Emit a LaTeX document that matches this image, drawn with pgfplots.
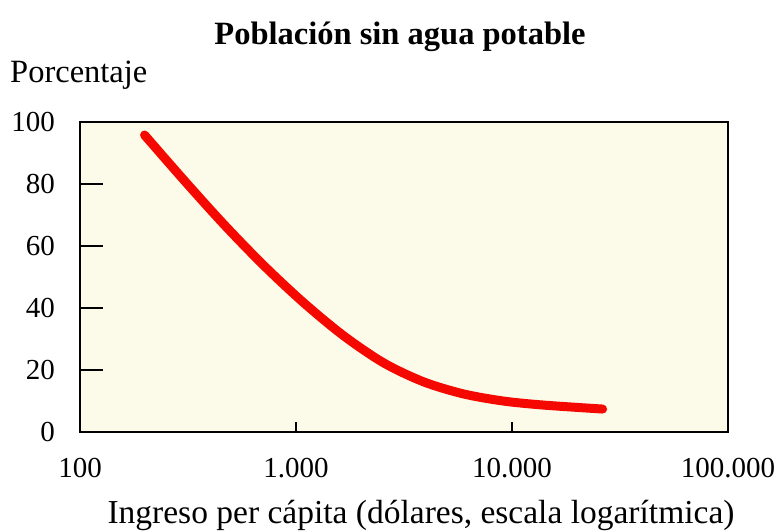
\documentclass[border=0pt]{standalone}
\usepackage{pgfplots}
\pgfplotsset{compat=1.18}
\usepackage{fontspec}
\setmainfont{Liberation Serif}
\definecolor{bgcream}{RGB}{252,251,234}
\definecolor{curvered}{RGB}{245,8,0}
\newcommand{\bigf}{\fontsize{32.5bp}{38bp}\selectfont}
\newcommand{\tickf}{\fontsize{29bp}{34bp}\selectfont}
\begin{document}
\bigf
\begin{tikzpicture}[x=1bp,y=1bp]
\useasboundingbox (-80,-99) rectangle (699,432);
% axis with y ticks (long)
\begin{axis}[at={(0,0)}, anchor=south west, scale only axis, width=648bp, height=310bp,
  xmode=log, xmin=100, xmax=100000, ymin=0, ymax=100,
  axis background/.style={fill=bgcream},
  axis line style={line width=2.8bp, black},
  xtick=\empty, xminorticks=false,
  ytick={0,20,40,60,80,100}, yticklabels={0,20,40,60,80,100},
  tick pos=left,
  tick align=inside, major tick length=23bp,
  tick style={line width=1.3bp, black},
  /pgf/number format/assume math mode=true,
  yticklabel style={anchor=east, inner sep=0pt, xshift=-25bp, font=\tickf},
]
\end{axis}
% axis with x ticks and data
\begin{axis}[at={(0,0)}, anchor=south west, scale only axis, width=648bp, height=310bp,
  xmode=log, xmin=100, xmax=100000, ymin=0, ymax=100,
  axis line style={line width=2.8bp, black},
  xtick={100,1000,10000,100000}, xticklabels={100,1.000,10.000,100.000},
  xminorticks=false, ytick=\empty,
  tick pos=left,
  tick align=inside, major tick length=10bp,
  tick style={line width=1.3bp, black},
  /pgf/number format/assume math mode=true,
  xticklabel style={anchor=north, inner sep=0pt, yshift=-26bp, font=\tickf},
]
\addplot[curvered, line width=9bp, smooth, tension=0.5, line cap=round] coordinates {
(199,95.8) (305,81.0) (466,66.8) (712,53.6) (1089,41.6) (1665,31.0)
(2545,22.3) (3890,16.2) (5947,12.3) (9090,10.0) (13900,8.7) (26270,7.4)
};
\end{axis}
\node[anchor=base, font=\bfseries\bigf] at (320,387) {Población sin agua potable};
\node[anchor=base west, inner sep=0pt] at (-70,349) {Porcentaje};
\node[anchor=base, inner sep=0pt, font=\fontsize{33.5bp}{38bp}\selectfont] at (341,-92) {Ingreso per cápita (dólares, escala logarítmica)};
\end{tikzpicture}
\end{document}
